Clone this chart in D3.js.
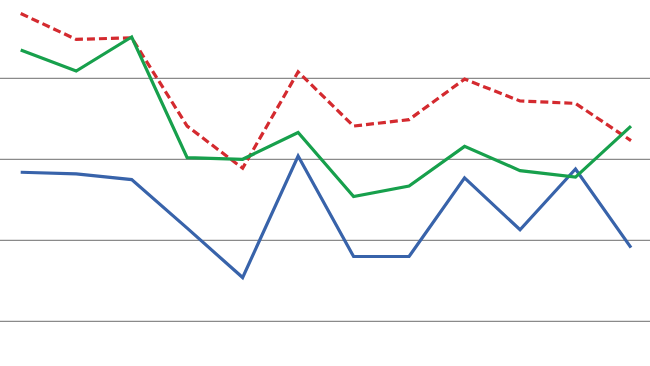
<html>
<head>
<style>
  body { margin: 0; background: #fff; font-family: Arial, sans-serif; }
  svg { display: block; }
</style>
<script src="https://cdn.jsdelivr.net/npm/d3@7"></script>
</head>
<body>
<svg id="chart"></svg>
<script>
  // twelve periods, values in gridline units
  let categories = ["1","2","3","4","5","6","7","8","9","10","11","12"]
  let redSeries   = [3.80, 3.48, 3.50, 2.41, 1.89, 3.08, 2.41, 2.49, 2.99, 2.72, 2.69, 2.23]
  let greenSeries = [3.35, 3.09, 3.51, 2.02, 2.00, 2.33, 1.54, 1.67, 2.16, 1.86, 1.78, 2.41]
  let blueSeries  = [1.84, 1.82, 1.75, 1.15, 0.54, 2.04, 0.80, 0.80, 1.77, 1.13, 1.88, 0.91]
  let gridValues  = [0, 1, 2, 3]

  let width = 650, height = 366
  let svg = d3.select("#chart").attr("width", width).attr("height", height)

  let x = d3.scalePoint().domain(categories).range([20.7, 631])
  let y = d3.scaleLinear().domain([0, 4]).range([321.3, -2.7])

  // gridlines
  svg.selectAll("line.grid")
    .data(gridValues)
    .enter().append("line")
    .attr("class", "grid")
    .attr("x1", 0).attr("x2", width)
    .attr("y1", d => y(d)).attr("y2", d => y(d))
    .attr("stroke", "#8a8a8a")
    .attr("stroke-width", 1.2)

  let line = d3.line()
    .x((d, i) => x(categories[i]))
    .y(d => y(d))

  let series = [
    {values: redSeries, color: "#d42a2f", dash: "8,4"},
    {values: blueSeries, color: "#3863aa", dash: null},
    {values: greenSeries, color: "#17a04c", dash: null}
  ]

  svg.selectAll("path.series")
    .data(series)
    .enter().append("path")
    .attr("class", "series")
    .attr("d", d => line(d.values))
    .attr("fill", "none")
    .attr("stroke", d => d.color)
    .attr("stroke-width", 3.2)
    .attr("stroke-dasharray", d => d.dash)
    .attr("stroke-linejoin", "miter")
</script>
</body>
</html>
